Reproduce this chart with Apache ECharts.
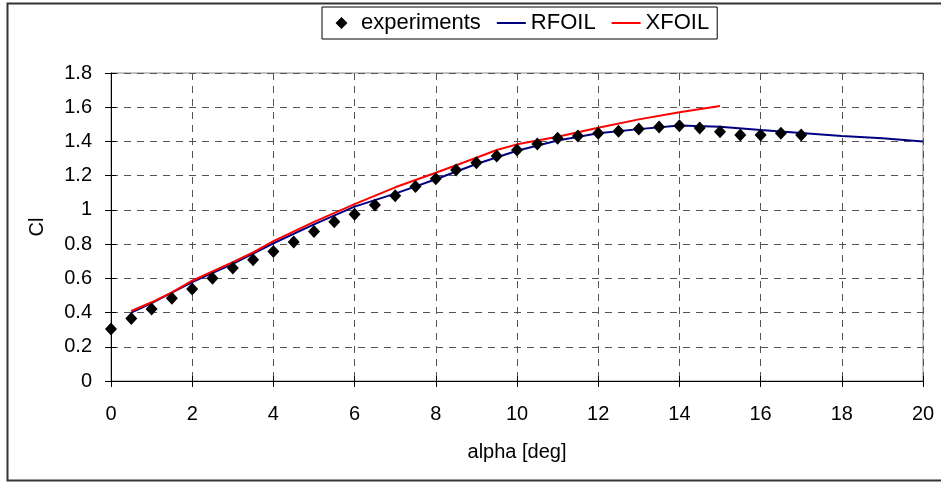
<!DOCTYPE html>
<html>
<head>
  <meta charset="utf-8">
  <title>Cl vs alpha</title>
</head>
<body style="margin: 0; background: #fff">
  <div id="container" style="width: 941px; height: 483px;"></div>
  <script src="https://cdn.jsdelivr.net/npm/echarts@6/dist/echarts.min.js"></script>
  <script>
    // experiments (alpha, Cl)
    var expAlpha = [0, 0.5, 1, 1.5, 2, 2.5, 3, 3.5, 4, 4.5, 5, 5.5, 6, 6.5, 7, 7.5, 8, 8.5,
      9, 9.5, 10, 10.5, 11, 11.5, 12, 12.5, 13, 13.5, 14, 14.5, 15, 15.5, 16, 16.5, 17];
    var expCl = [0.304, 0.365, 0.421, 0.483, 0.538, 0.600, 0.660, 0.708, 0.757, 0.813, 0.873, 0.931, 0.974, 1.029, 1.083, 1.136, 1.182, 1.233,
      1.276, 1.315, 1.350, 1.385, 1.418, 1.432, 1.448, 1.459, 1.473, 1.484, 1.491, 1.479, 1.457, 1.438, 1.438, 1.448, 1.438];

    // RFOIL
    var rfoilAlpha = [0.5, 1, 2, 3, 4, 5, 6, 7, 8, 9, 10, 11, 12, 13, 14, 15, 16, 17, 18, 19, 20];
    var rfoilCl = [0.400, 0.455, 0.578, 0.685, 0.805, 0.915, 1.019, 1.095, 1.179, 1.268, 1.346, 1.405, 1.448, 1.472, 1.493, 1.486, 1.467, 1.450, 1.432, 1.418, 1.399];

    // XFOIL
    var xfoilAlpha = [0.5, 1, 1.5, 2, 3, 3.5, 4, 5, 6, 7, 8, 9, 9.5, 10, 11, 12, 13, 14, 15];
    var xfoilCl = [0.409, 0.460, 0.518, 0.586, 0.695, 0.752, 0.818, 0.930, 1.034, 1.132, 1.217, 1.305, 1.350, 1.383, 1.428, 1.480, 1.529, 1.570, 1.607];

    function pairs(xs, ys) {
      return xs.map(function (x, i) { return [x, ys[i]]; });
    }

    var font = 'Liberation Sans, Arial, sans-serif';
    var myChart = echarts.init(document.getElementById('container'), null, { renderer: 'canvas' });

    var gridLine = { show: true, lineStyle: { color: '#555', type: [7, 6], width: 1 } };
    // legend icons: thin line, and a diamond centred in the same 29px wide box
    var lineIcon = 'path://M0,0 L29,0 L29,2 L0,2 Z';
    var diamondIcon = 'path://M0,6 L0.01,6 M28.99,6 L29,6 M14.5,0 L20.5,6 L14.5,12 L8.5,6 Z';

    var option = {
      animation: false,
      backgroundColor: '#fff',
      textStyle: { fontFamily: font },
      graphic: [{
        type: 'rect',
        shape: { x: 7.5, y: 3.5, width: 940, height: 477 },
        style: { fill: 'none', stroke: '#333', lineWidth: 2 },
        silent: true
      }],
      grid: {
        left: 111, right: 18, top: 73, bottom: 102,
        show: true, borderColor: '#888', borderWidth: 1
      },
      legend: {
        left: 322, top: 7,
        padding: [5, 8, 5, 5],
        itemGap: 16,
        itemWidth: 29, itemHeight: 12,
        borderColor: '#000', borderWidth: 1,
        backgroundColor: '#fff',
        textStyle: { fontSize: 22, color: '#000', fontFamily: font },
        data: [
          { name: 'experiments', icon: diamondIcon },
          { name: 'RFOIL', icon: lineIcon },
          { name: 'XFOIL', icon: lineIcon }
        ]
      },
      xAxis: [{
        type: 'value', min: 0, max: 20, interval: 2,
        name: 'alpha [deg]', nameLocation: 'middle', nameGap: 61,
        nameTextStyle: { fontSize: 20, color: '#000', fontFamily: font },
        axisLine: { onZero: false, lineStyle: { color: '#000', width: 1 } },
        axisTick: { show: true, length: 6, lineStyle: { color: '#000' } },
        axisLabel: { fontSize: 20, color: '#000', margin: 23, fontFamily: font },
        splitLine: gridLine
      }, {
        type: 'value', min: 0, max: 20, interval: 2, position: 'bottom',
        axisLine: { show: false },
        axisTick: { show: true, inside: true, length: 5, lineStyle: { color: '#000' } },
        axisLabel: { show: false },
        splitLine: { show: false }
      }],
      yAxis: [{
        type: 'value', min: 0, max: 1.8, interval: 0.2,
        name: 'Cl', nameLocation: 'middle', nameGap: 64,
        nameTextStyle: { fontSize: 20, color: '#000', fontFamily: font },
        axisLine: { show: true, onZero: false, lineStyle: { color: '#000', width: 1 } },
        axisTick: { show: true, length: 6, lineStyle: { color: '#000' } },
        axisLabel: {
          fontSize: 20, color: '#000', margin: 19, fontFamily: font,
          formatter: function (v) { return String(Math.round(v * 10) / 10); }
        },
        splitLine: gridLine
      }, {
        type: 'value', min: 0, max: 1.8, interval: 0.2, position: 'left',
        axisLine: { show: false },
        axisTick: { show: true, inside: true, length: 5, lineStyle: { color: '#000' } },
        axisLabel: { show: false },
        splitLine: { show: false }
      }],
      series: [
        {
          name: 'RFOIL', type: 'line',
          data: pairs(rfoilAlpha, rfoilCl),
          symbol: 'none',
          lineStyle: { color: '#000080', width: 2 },
          itemStyle: { color: '#000080' },
          z: 2
        },
        {
          name: 'XFOIL', type: 'line',
          data: pairs(xfoilAlpha, xfoilCl),
          symbol: 'none',
          lineStyle: { color: '#ff0000', width: 2 },
          itemStyle: { color: '#ff0000' },
          z: 3
        },
        {
          name: 'experiments', type: 'scatter',
          data: pairs(expAlpha, expCl),
          symbol: 'diamond', symbolSize: [12, 13],
          itemStyle: { color: '#000', opacity: 1 },
          z: 4
        }
      ]
    };

    myChart.setOption(option);
  </script>
</body>
</html>
